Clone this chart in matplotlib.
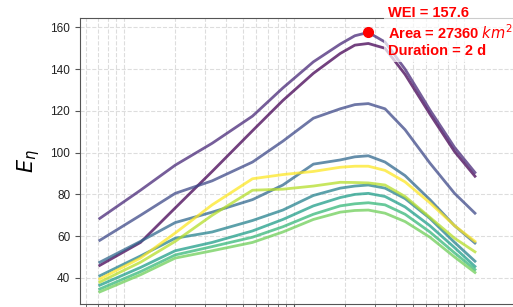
import numpy as np
import matplotlib
matplotlib.use("Agg")
import matplotlib.pyplot as plt
from matplotlib.ticker import LogLocator, NullFormatter

plt.rcParams['font.family'] = ['Liberation Sans', 'DejaVu Sans']

# area (km^2) sample points, shared by all curves
area = [720, 1250, 2000, 3300, 5700, 8600, 13000, 18700, 22800, 27360,
        34300, 45000, 63000, 88000, 116000]

# E_eta curves
e_b = [46.0, 57.0, 73.5, 91.0, 110.5, 125.0, 138.0, 147.5, 151.5, 152.3, 150.0, 137.5, 118.5, 100.5, 88.7]
e_a = [68.5, 82.0, 94.0, 104.5, 117.5, 131.0, 143.5, 152.0, 156.0, 157.6, 153.0, 140.0, 120.5, 102.5, 90.5]
e_c = [58.0, 70.0, 80.5, 86.5, 95.5, 105.5, 116.5, 121.0, 123.0, 123.5, 121.0, 111.0, 95.0, 80.5, 71.0]
e_d = [47.5, 57.5, 66.5, 71.5, 77.5, 84.5, 94.5, 96.5, 98.0, 98.5, 95.5, 89.0, 77.5, 65.0, 56.7]
e_g = [41.0, 50.5, 59.0, 62.0, 67.5, 72.5, 79.5, 83.0, 84.0, 84.5, 83.0, 78.0, 68.5, 57.0, 48.0]
e_h = [36.5, 45.0, 53.0, 57.0, 62.5, 68.0, 74.5, 78.5, 80.0, 80.5, 79.0, 74.0, 65.0, 54.5, 45.5]
e_i = [34.7, 43.0, 51.0, 55.0, 59.5, 64.5, 70.5, 74.5, 75.5, 76.0, 75.0, 70.5, 62.0, 52.0, 44.0]
e_j = [33.3, 41.5, 49.5, 53.0, 57.0, 62.0, 68.0, 71.5, 72.3, 72.5, 71.0, 67.0, 59.5, 50.0, 42.6]
e_f = [38.0, 47.5, 57.5, 70.0, 82.0, 82.5, 84.0, 85.8, 85.7, 85.5, 84.5, 79.0, 69.0, 59.0, 52.5]
e_e = [39.5, 49.5, 61.5, 75.0, 87.5, 89.5, 91.0, 93.0, 93.5, 93.5, 91.5, 86.0, 76.0, 65.0, 57.5]

curves = [e_b, e_a, e_c, e_d, e_g, e_h, e_i, e_j, e_f, e_e]

wei = 157.6
wei_area = 27360
duration = 2

fig = plt.figure(figsize=(5.13, 3.07), dpi=100)
ax = fig.add_axes([80 / 513, 3 / 307, 443.5 / 513, 286 / 307])

cmap = plt.get_cmap('viridis')
for k, e in enumerate(curves):
    ax.plot(area, e, color=cmap(k / (len(curves) - 1)), lw=2, alpha=0.75,
            solid_joinstyle='round')

ax.plot(wei_area, wei, 'o', color='red', ms=7, zorder=5)

ax.set_xscale('log')
ax.set_xlim(10 ** 2.741, 10 ** 5.35)
ax.set_ylim(27.5, 164.5)
ax.set_yticks([40, 60, 80, 100, 120, 140, 160])
ax.xaxis.set_minor_locator(LogLocator(base=10, subs=np.arange(2, 10)))
ax.xaxis.set_minor_formatter(NullFormatter())

ax.grid(True, which='major', linestyle='--', color='#dddddd', lw=0.8)
ax.grid(True, which='minor', axis='x', linestyle='--', color='#dddddd', lw=0.8)

for s in ax.spines.values():
    s.set_color('#555555')
ax.tick_params(axis='y', labelsize=8.5, length=3.5, color='#555555', labelcolor='#222222')
ax.tick_params(axis='x', which='both', length=3, color='#555555', labelbottom=False)

ax.set_ylabel(r'$E_\eta$', fontsize=15)
ax.yaxis.set_label_coords(-0.086, 0.5)

fig.text(388 / 513, 1 - 6 / 307,
         'WEI = %.1f\nArea = %d $km^2$\nDuration = %d d' % (wei, wei_area, duration),
         color='red', fontsize=10.5, fontweight='bold', va='top', ha='left',
         linespacing=1.2,
         bbox=dict(boxstyle='square,pad=0.3', facecolor='white', edgecolor='none', alpha=0.7),
         zorder=10)

fig.savefig('out.png', dpi=100)
